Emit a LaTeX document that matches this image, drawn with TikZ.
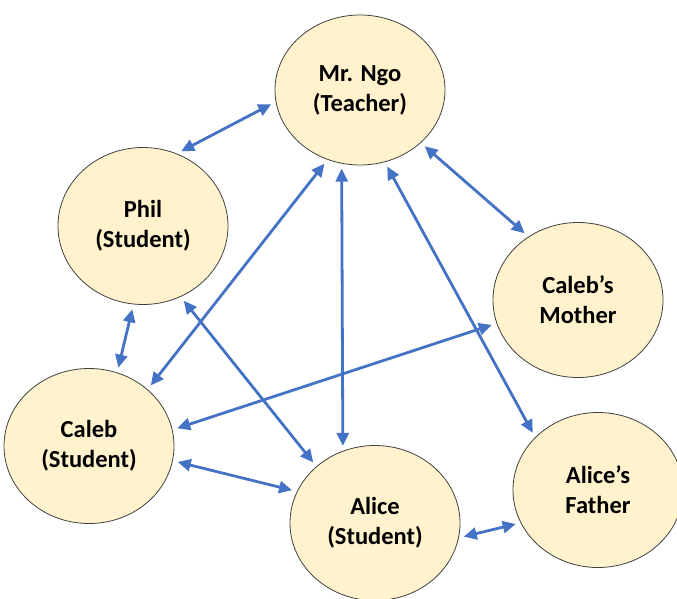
\documentclass[tikz,border=0pt]{standalone}
\usepackage{fontspec}
\setmainfont{Carlito}[BoldFont={Carlito Bold}]
\usetikzlibrary{shapes.geometric,arrows.meta}
\definecolor{linkblue}{HTML}{4472C4}
\definecolor{personfill}{HTML}{FFF2CC}
\begin{document}
\begin{tikzpicture}[x=1pt, y=-1pt,
    person/.style = {ellipse, draw=black!75, line width=0.8pt, fill=personfill, inner sep=0pt,
        minimum width=170pt, minimum height=155pt, align=center,
        font=\fontsize{24.5}{30}\selectfont\bfseries},
    link/.style = {{Triangle[length=13pt,width=12pt]}-{Triangle[length=13pt,width=12pt]},
        draw=linkblue, line width=2.8pt, shorten <=5pt, shorten >=5pt}]
    \useasboundingbox (0,0) rectangle (677,598);
    \node[person, minimum height=150pt] (ngo) at (360,90) {Mr. Ngo\\(Teacher)};
    \node[person, minimum height=157pt] (phil) at (143,226) {Phil\\(Student)};
    \node[person] (mother) at (578,300) {Caleb’s\\Mother};
    \node[person] (caleb) at (89,446) {Caleb\\(Student)};
    \node[person] (alice) at (375,523) {Alice\\(Student)};
    \node[person] (father) at (598,490) {Alice’s\\Father};
    % connections
    \draw[link] (phil.65) -- (ngo.188);
    \draw[link] (ngo.319) -- (mother.128);
    \draw[link] (phil.263) -- (caleb.69);
    \draw[link] (caleb.44) -- (ngo.245);
    \draw[link] (phil.298) -- (alice.136);
    \draw[link] (ngo.256) -- (alice.114);
    \draw[link] (ngo.289) -- (father.140);
    \draw[link] (caleb.11) -- (mother.196);
    \draw[link] (caleb.350) -- (alice.158);
    \draw[link] (alice.350) -- (father.203);
\end{tikzpicture}
\end{document}
